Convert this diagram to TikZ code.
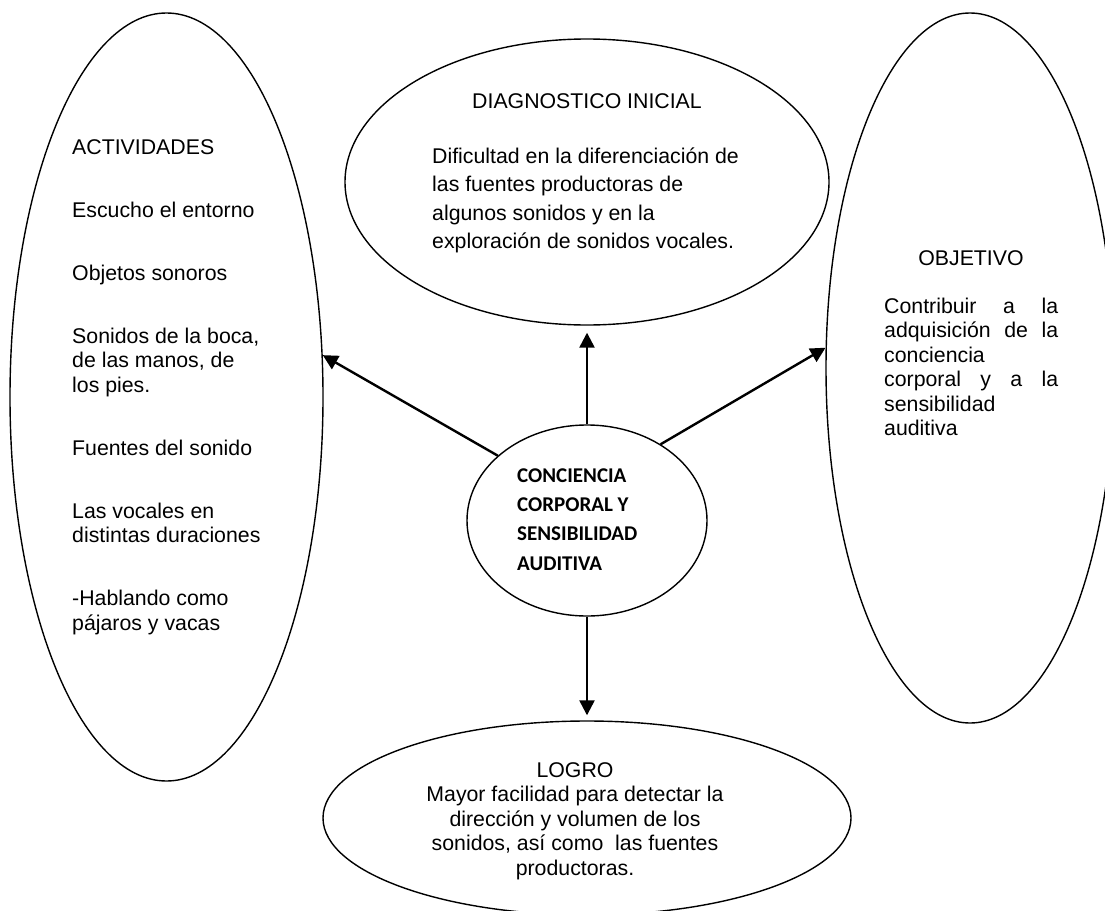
\documentclass[tikz,border=0pt]{standalone}
\usepackage{fontspec}
\setmainfont{Liberation Sans}
\newfontfamily\calibfont{Carlito}
\usetikzlibrary{shapes.geometric,arrows.meta}
\begin{document}
\begin{tikzpicture}[x=1pt,y=-1pt,
  ell/.style={ellipse,draw,line width=1.4pt,inner sep=0pt},
  txt/.style={inner sep=0pt,font=\fontsize{21.3}{24.5}\selectfont},
  conn/.style={line width=2.4pt,-{Triangle[length=15pt,width=15pt]}}]
\useasboundingbox (0,0) rectangle (1105,910);
\clip (0,0) rectangle (1105,910);
% ellipses
\node[ell,minimum width=313pt,minimum height=768pt] (act) at (166.5,397) {};
\node[ell,minimum width=484pt,minimum height=286pt] (diag) at (587,182) {};
\node[ell,minimum width=288pt,minimum height=710pt] (obj) at (970,368) {};
\node[ell,minimum width=240pt,minimum height=191pt] (cen) at (587,520.5) {};
\node[ell,minimum width=528pt,minimum height=194pt] (log) at (587,818) {};
% texts
\node[txt,anchor=north west,align=left] (actT) at (72,139.4)
  {ACTIVIDADES\\[38.5pt]
   Escucho el entorno\\[38.5pt]
   Objetos sonoros\\[38.5pt]
   Sonidos de la boca,\\ de las manos, de\\ los pies.\\[38.5pt]
   Fuentes del sonido\\[38.5pt]
   Las vocales en\\ distintas duraciones\\[38.5pt]
   -Hablando como\\ pájaros y vacas};
\node[txt,anchor=base] (diagT) at (587,108.6) {DIAGNOSTICO INICIAL};
\node[txt,anchor=north west,align=left,font=\fontsize{21.3}{28.5}\selectfont] (diagB) at (432,147.4)
  {Dificultad en la diferenciación de\\las fuentes productoras de\\algunos sonidos y en la\\exploración de sonidos vocales.};
\node[txt,anchor=base] (objT) at (971,265.6) {OBJETIVO};
\node[txt,anchor=north west,align=left] (objB) at (884,297.4)
  {\makebox[174pt][s]{Contribuir a la}\\
   \makebox[174pt][s]{adquisición de la}\\
   conciencia\\
   \makebox[174pt][s]{corporal y a la}\\
   sensibilidad\\
   auditiva};
\node[anchor=north west,align=left,inner sep=0pt,font=\calibfont\bfseries\fontsize{21}{29.3}\selectfont] (cenT) at (517,468.2)
  {CONCIENCIA\\CORPORAL Y\\SENSIBILIDAD\\AUDITIVA};
\node[txt,anchor=north,align=center] (logT) at (575,762.4)
  {LOGRO\\Mayor facilidad para detectar la\\dirección y volumen de los\\sonidos, así como\ \ las fuentes\\productoras.};
% connectors
\draw[conn,shorten >=7pt] (cen.north) -- (diag.south);
\draw[conn] (cen.144) -- (act.15.4);
\draw[conn] (cen.46.5) -- (obj.172.7);
\draw[conn,shorten >=5pt] (cen.south) -- (log.north);
\end{tikzpicture}
\end{document}
